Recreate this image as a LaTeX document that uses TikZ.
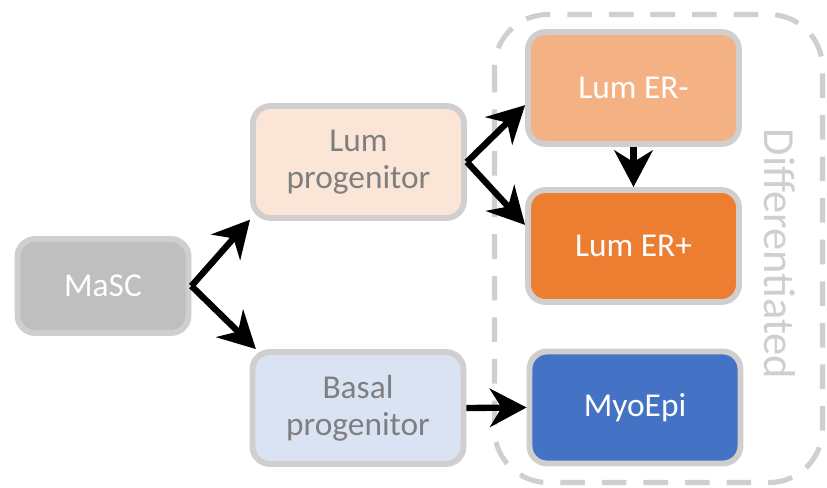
\documentclass[tikz,border=0pt]{standalone}
\usepackage{fontspec}
\setmainfont{Carlito}
\usetikzlibrary{arrows.meta}

\definecolor{boxline}{HTML}{D0CECE}
\definecolor{stemfill}{HTML}{BFBFBF}
\definecolor{lumprog}{HTML}{FBE5D6}
\definecolor{basprog}{HTML}{DAE3F3}
\definecolor{ernegfill}{HTML}{F4B183}
\definecolor{erposfill}{HTML}{ED7D31}
\definecolor{myofill}{HTML}{4472C4}
\definecolor{progtext}{HTML}{7F7F7F}

\tikzset{
  cellbox/.style={draw=boxline, line width=5pt, rounded corners=15pt,
    minimum width=6.33cm, minimum height=3.36cm, align=center,
    font=\fontsize{28.5}{31.5}\selectfont, text=white},
  progbox/.style={cellbox, text=progtext},
  fate/.style={line width=5.4pt, -{Stealth[length=11mm, width=11.5mm, inset=3.5mm]}},
  groupbox/.style={draw=boxline, line width=4.3pt, rounded corners=1.6cm,
    dash pattern=on 21pt off 14.5pt}
}

\begin{document}
\begin{tikzpicture}[x=0.03cm, y=-0.03cm]
  \useasboundingbox (0,0) rectangle (827,488);

  % group of differentiated cell types
  \draw[groupbox] (494.5,14.5) rectangle (822.5,482.5);
  \node[rotate=-90, text=boxline, font=\fontsize{38}{42}\selectfont] (difflabel) at (780,254) {Differentiated};

  \node[cellbox, fill=stemfill, minimum width=5.13cm, minimum height=2.82cm] (masc) at (103,286) {MaSC};
  \node[progbox, fill=lumprog] (lumprog) at (358.5,162) {Lum\\progenitor};
  \node[progbox, fill=basprog] (basprog) at (358,408) {Basal\\progenitor};
  \node[cellbox, fill=ernegfill] (erneg) at (633.5,88) {Lum ER-};
  \node[cellbox, fill=erposfill] (erpos) at (633.5,246) {Lum ER+};
  \node[cellbox, fill=myofill] (myoepi) at (635,407.5) {MyoEpi};

  \path[fate]
    (masc.east) edge (lumprog.208)
                edge (basprog.150)
    (lumprog.east) edge (erneg.189)
                   edge (erpos.169)
    (erneg.south) edge (erpos.north)
    (basprog.east) edge (myoepi.west);
\end{tikzpicture}
\end{document}
